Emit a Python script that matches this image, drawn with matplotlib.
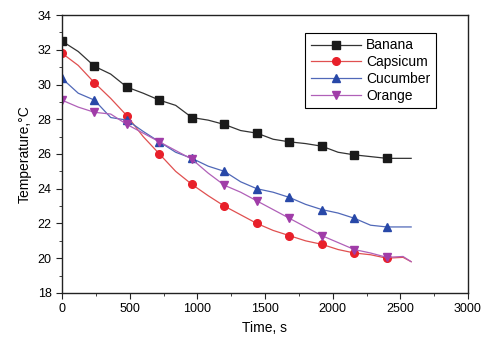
import numpy as np
import matplotlib
matplotlib.use('Agg')
import matplotlib.pyplot as plt
from matplotlib.ticker import MultipleLocator

plt.rcParams['font.family'] = ['Liberation Sans', 'DejaVu Sans']

# marker positions (every 240 s)
t_mark = [0, 240, 480, 720, 960, 1200, 1440, 1680, 1920, 2160, 2400]
banana_mark = [32.5, 31.05, 29.85, 29.1, 28.1, 27.7, 27.2, 26.7, 26.45, 25.95, 25.75]
capsicum_mark = [31.8, 30.1, 28.2, 26.0, 24.25, 23.0, 22.0, 21.3, 20.8, 20.3, 20.0]
cucumber_mark = [30.35, 29.1, 27.95, 26.7, 25.75, 25.0, 24.0, 23.5, 22.8, 22.3, 21.8]
orange_mark = [29.1, 28.4, 27.7, 26.7, 25.7, 24.2, 23.3, 22.3, 21.3, 20.5, 20.05]

# measured curves (every 120 s, last at 2580 s)
t_line = [0, 120, 240, 360, 480, 600, 720, 840, 960, 1080, 1200, 1320, 1440,
          1560, 1680, 1800, 1920, 2040, 2160, 2280, 2400, 2520, 2580]
banana_line = [32.5, 31.9, 31.05, 30.6, 29.85, 29.5, 29.1, 28.8, 28.1, 27.95, 27.7, 27.35,
               27.2, 26.85, 26.7, 26.6, 26.45, 26.1, 25.95, 25.85, 25.75, 25.75, 25.75]
capsicum_line = [31.8, 31.1, 30.1, 29.2, 28.2, 27.0, 26.0, 25.0, 24.25, 23.6, 23.0, 22.5,
                 22.0, 21.6, 21.3, 21.0, 20.8, 20.5, 20.3, 20.2, 20.0, 20.05, 19.8]
cucumber_line = [30.35, 29.5, 29.1, 28.1, 27.95, 27.3, 26.7, 26.1, 25.75, 25.3, 25.0, 24.4,
                 24.0, 23.8, 23.5, 23.1, 22.8, 22.6, 22.3, 21.9, 21.8, 21.8, 21.8]
orange_line = [29.1, 28.7, 28.4, 28.3, 27.7, 27.2, 26.7, 26.2, 25.7, 24.9, 24.2, 23.8,
               23.3, 22.8, 22.3, 21.8, 21.3, 20.9, 20.5, 20.3, 20.05, 20.1, 19.8]

series = [
    ('Banana', banana_line, banana_mark, '#1a1a1a', '#333333', 's'),
    ('Capsicum', capsicum_line, capsicum_mark, '#e8202a', '#e05050', 'o'),
    ('Cucumber', cucumber_line, cucumber_mark, '#2848a8', '#5068b8', '^'),
    ('Orange', orange_line, orange_mark, '#a03ca8', '#b060b8', 'v'),
]

fig = plt.figure(figsize=(5, 3.5), dpi=100)
ax = fig.add_axes([0.124, 0.163, 0.812, 0.794])

for name, yl, ym, mc, lc, m in series:
    ax.plot(t_line, yl, color=lc, lw=0.9)
    ax.plot(t_mark, ym, linestyle='none', marker=m, color=mc, ms=5.5)
    ax.plot([], [], color=lc, lw=0.9, marker=m, mfc=mc, mec=mc, ms=5.5, label=name)

ax.set_xlim(0, 3000)
ax.set_ylim(18, 34)
ax.xaxis.set_major_locator(MultipleLocator(500))
ax.xaxis.set_minor_locator(MultipleLocator(250))
ax.yaxis.set_major_locator(MultipleLocator(2))
ax.yaxis.set_minor_locator(MultipleLocator(1))
ax.tick_params(which='major', direction='out', length=4, labelsize=9, color='#222222')
ax.tick_params(which='minor', direction='out', length=2.5, color='#222222')
for s in ax.spines.values():
    s.set_linewidth(1.0)
    s.set_color('#222222')

ax.set_xlabel('Time, s', fontsize=10)
ax.set_ylabel('Temperature,°C', fontsize=10)

leg = ax.legend(loc='upper left', bbox_to_anchor=(0.599, 0.936), fontsize=10,
                fancybox=False, edgecolor='black', framealpha=1,
                handlelength=3.6, handletextpad=0.4, borderpad=0.4,
                labelspacing=0.2, borderaxespad=0)
leg.get_frame().set_linewidth(0.8)

fig.savefig('out.png', dpi=100)
